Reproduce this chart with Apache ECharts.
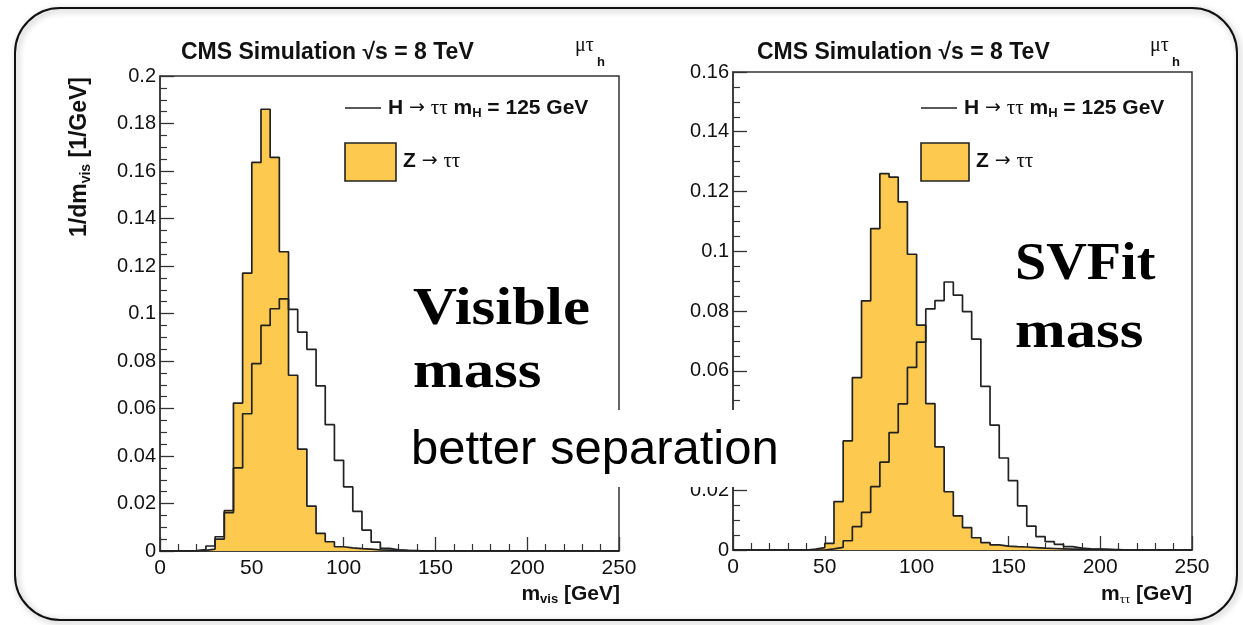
<!DOCTYPE html>
<html>
<head>
<meta charset="utf-8">
<script src="https://cdn.jsdelivr.net/npm/echarts@6/dist/echarts.min.js"></script>
<style>
html,body{margin:0;padding:0;background:#fff;}
#chart{width:1243px;height:625px;}
</style>
</head>
<body>
<div id="chart"></div>
<script>
// ---- data (bin contents, 5 GeV bins from 0 to 250 GeV) ----
const binWidth = 5;
const xMax = 250;
const xTicks = [0, 50, 100, 150, 200, 250];
const yTicksVis = [0, 0.02, 0.04, 0.06, 0.08, 0.1, 0.12, 0.14, 0.16, 0.18, 0.2];
const yTicksSv = [0, 0.02, 0.04, 0.06, 0.08, 0.1, 0.12, 0.14, 0.16];

// visible mass: Z -> tautau (filled)
const zVis = [0, 0, 0, 0, 0.0003, 0.0008, 0.005, 0.017, 0.0623, 0.117,
  0.1636, 0.186, 0.1657, 0.126, 0.074, 0.0429, 0.0189, 0.0074, 0.0039, 0.0018,
  0.0013, 0.001, 0.0008, 0.0005, 0.0004, 0.0003, 0.0002, 0.0001, 0, 0,
  0, 0, 0, 0, 0, 0, 0, 0, 0, 0,
  0, 0, 0, 0, 0, 0, 0, 0, 0, 0];
// visible mass: H -> tautau, mH = 125 GeV (outline)
const hVis = [0, 0, 0, 0.0002, 0.0006, 0.0021, 0.006, 0.0161, 0.035, 0.0578,
  0.0789, 0.095, 0.102, 0.1062, 0.1017, 0.0922, 0.0849, 0.0695, 0.0532, 0.0382,
  0.027, 0.0167, 0.0088, 0.0037, 0.0011, 0.0005, 0.0003, 0.0002, 0, 0,
  0, 0, 0, 0, 0, 0, 0, 0, 0, 0,
  0, 0, 0, 0, 0, 0, 0, 0, 0, 0];
// SVFit mass: Z -> tautau (filled)
const zSv = [0, 0, 0, 0, 0, 0, 0, 0, 0.0003, 0.0008,
  0.0022, 0.0162, 0.0365, 0.0577, 0.0834, 0.1076, 0.126, 0.1248, 0.1165, 0.099,
  0.0753, 0.049, 0.0345, 0.0195, 0.0114, 0.0075, 0.0041, 0.0025, 0.0017, 0.0013,
  0.0011, 0.001, 0.0008, 0.0006, 0.0005, 0.0004, 0.0003, 0.0003, 0.0002, 0.0002,
  0.0001, 0.0001, 0, 0, 0, 0, 0, 0, 0, 0];
// SVFit mass: H -> tautau, mH = 125 GeV (outline)
const hSv = [0, 0, 0, 0, 0, 0, 0, 0, 0, 0,
  0.0004, 0.0009, 0.0031, 0.0078, 0.0126, 0.0212, 0.0294, 0.0393, 0.0489, 0.0611,
  0.0696, 0.0807, 0.0835, 0.0897, 0.0853, 0.0798, 0.0706, 0.0548, 0.0418, 0.0308,
  0.0232, 0.0148, 0.008, 0.0045, 0.0028, 0.0019, 0.0011, 0.0006, 0.0004, 0.0003,
  0.0002, 0, 0, 0, 0, 0, 0, 0, 0, 0];

// ---- helpers ----
function histPoints(vals) {
  const pts = vals.map((v, i) => [i * binWidth, v]);
  pts.push([vals.length * binWidth, vals[vals.length - 1]]);
  return pts;
}
const YELLOW = '#FDC94E';
const LINE = '#222';
const SANS = 'Liberation Sans, Arial, Helvetica, sans-serif';
const SERIF = 'Liberation Serif, Times New Roman, serif';

function xAxisCfg(gi) {
  return {
    gridIndex: gi, type: 'value', min: 0, max: xMax, interval: 50,
    axisLine: { show: true, lineStyle: { color: '#333', width: 1.5 } },
    axisTick: { show: true, inside: true, length: 14, lineStyle: { color: '#333', width: 1.3 } },
    minorTick: { show: true, splitNumber: 5, length: 7, lineStyle: { color: '#333', width: 1.2 } },
    axisLabel: { fontSize: 21, color: '#111', margin: 7, fontFamily: SANS,
      formatter: v => (xTicks.indexOf(v) >= 0 ? String(v) : '') },
    splitLine: { show: false }
  };
}
function yAxisCfg(gi, ticks) {
  return {
    gridIndex: gi, type: 'value', min: 0, max: ticks[ticks.length - 1], interval: 0.02,
    axisLine: { show: true, lineStyle: { color: '#333', width: 1.5 } },
    axisTick: { show: true, inside: true, length: 14, lineStyle: { color: '#333', width: 1.3 } },
    minorTick: { show: true, splitNumber: 4, length: 7, lineStyle: { color: '#333', width: 1.2 } },
    axisLabel: { fontSize: 20, color: '#111', margin: 4, fontFamily: SANS,
      formatter: v => String(+v.toFixed(3)) },
    splitLine: { show: false }
  };
}
function zSeries(gi, vals) {
  return {
    type: 'line', xAxisIndex: gi, yAxisIndex: gi, step: 'end', symbol: 'none',
    data: histPoints(vals), lineStyle: { color: LINE, width: 1.7 },
    areaStyle: { color: YELLOW, opacity: 1 }, z: 2, silent: true
  };
}
function hSeries(gi, vals) {
  return {
    type: 'line', xAxisIndex: gi, yAxisIndex: gi, step: 'end', symbol: 'none',
    data: histPoints(vals), lineStyle: { color: LINE, width: 1.7 }, z: 3, silent: true
  };
}

const richLegend = {
  b: { fontFamily: SANS, fontWeight: 'bold', fontSize: 21, fill: '#111', lineHeight: 24 },
  a: { fontFamily: 'DejaVu Sans, ' + SANS, fontSize: 19, fill: '#111', lineHeight: 24 },
  t: { fontFamily: SERIF, fontSize: 21, fill: '#111', lineHeight: 24 },
  s: { fontFamily: SANS, fontWeight: 'bold', fontSize: 13, fill: '#111', lineHeight: 13, verticalAlign: 'bottom' }
};
function txt(x, y, text, font, opts) {
  return Object.assign({
    type: 'text', x: x, y: y, z: 50, silent: true,
    style: Object.assign({ text: text, font: font, fill: '#111', align: 'left', verticalAlign: 'middle',
      textAlign: 'left', textVerticalAlign: 'middle' }, (opts && opts.style) || {})
  }, (opts && opts.el) || {});
}
function titleGroup(x, muX) {
  return [
    txt(x, 53, 'CMS Simulation √s = 8 TeV', 'bold 23px ' + SANS),
    txt(muX, 46, 'μτ', '20px ' + SERIF),
    txt(muX + 22, 62, 'h', 'bold 13px ' + SANS)
  ];
}
function legendGroup(lx, boxW) {
  return [
    { type: 'line', z: 50, silent: true, shape: { x1: lx, y1: 108, x2: lx + 36, y2: 108 },
      style: { stroke: LINE, lineWidth: 1.5 } },
    { type: 'text', z: 50, silent: true, x: lx + 43, y: 108,
      style: { text: '{b|H }{a|→}{b| }{t|ττ}{b| m}{s|H}{b| = 125 GeV}', rich: richLegend,
        align: 'left', verticalAlign: 'middle', textAlign: 'left', textVerticalAlign: 'middle' } },
    { type: 'rect', z: 50, silent: true, shape: { x: lx, y: 143, width: boxW, height: 38 },
      style: { fill: YELLOW, stroke: LINE, lineWidth: 1.6 } },
    { type: 'text', z: 50, silent: true, x: lx + boxW + 7, y: 161,
      style: { text: '{b|Z }{a|→}{b| }{t|ττ}', rich: richLegend,
        align: 'left', verticalAlign: 'middle', textAlign: 'left', textVerticalAlign: 'middle' } }
  ];
}

const graphic = [].concat(
  [{ type: 'rect', z: 40, silent: true, shape: { x: 15, y: 8, width: 1222, height: 612, r: 45 },
     style: { fill: 'none', stroke: '#111', lineWidth: 2,
       shadowBlur: 6, shadowColor: 'rgba(0,0,0,0.35)', shadowOffsetX: 2, shadowOffsetY: 2 } }],
  titleGroup(181, 575),
  titleGroup(757, 1150),
  legendGroup(345, 51),
  legendGroup(921, 48),
  [
    // y-axis title (left)
    { type: 'text', z: 50, silent: true, x: 80, y: 77, rotation: Math.PI / 2,
      style: { text: '{b|1/dm}{s|vis}{b| [1/GeV]}', align: 'right', verticalAlign: 'middle',
        textAlign: 'right', textVerticalAlign: 'middle',
        rich: {
          b: { fontFamily: SANS, fontWeight: 'bold', fontSize: 23, fill: '#111', lineHeight: 26 },
          s: { fontFamily: SANS, fontWeight: 'bold', fontSize: 14, fill: '#111', lineHeight: 14, verticalAlign: 'bottom' }
        } } },
    // x-axis titles
    { type: 'text', z: 50, silent: true, x: 620, y: 594,
      style: { text: '{b|m}{s|vis}{b| [GeV]}', align: 'right', verticalAlign: 'middle',
        textAlign: 'right', textVerticalAlign: 'middle',
        rich: {
          b: { fontFamily: SANS, fontWeight: 'bold', fontSize: 21, fill: '#111', lineHeight: 24 },
          s: { fontFamily: SANS, fontWeight: 'bold', fontSize: 13, fill: '#111', lineHeight: 13, verticalAlign: 'bottom' }
        } } },
    { type: 'text', z: 50, silent: true, x: 1192, y: 594,
      style: { text: '{b|m}{s|ττ}{b| [GeV]}', align: 'right', verticalAlign: 'middle',
        textAlign: 'right', textVerticalAlign: 'middle',
        rich: {
          b: { fontFamily: SANS, fontWeight: 'bold', fontSize: 21, fill: '#111', lineHeight: 24 },
          s: { fontFamily: SERIF, fontSize: 13, fill: '#111', lineHeight: 13, verticalAlign: 'bottom' }
        } } },
    // annotations
    txt(413, 311, 'Visible', 'bold 52px ' + SERIF, { el: { scaleX: 1.17 }, style: { fill: '#000' } }),
    txt(413, 374, 'mass', 'bold 52px ' + SERIF, { el: { scaleX: 1.17 }, style: { fill: '#000' } }),
    txt(1015, 266, 'SVFit', 'bold 52px ' + SERIF, { el: { scaleX: 1.08 }, style: { fill: '#000' } }),
    txt(1015, 334, 'mass', 'bold 52px ' + SERIF, { el: { scaleX: 1.17 }, style: { fill: '#000' } }),
    { type: 'rect', z: 60, silent: true, shape: { x: 400, y: 410, width: 400, height: 77 },
      style: { fill: '#fff' } },
    { type: 'text', z: 61, silent: true, x: 411, y: 450,
      style: { text: 'better separation', font: '49px ' + SANS, fill: '#000',
        align: 'left', verticalAlign: 'middle', textAlign: 'left', textVerticalAlign: 'middle' } }
  ]
);

const option = {
  backgroundColor: '#fff',
  animation: false,
  grid: [
    { left: 160, top: 76, width: 459, height: 475, show: true, borderColor: '#333', borderWidth: 1.5, backgroundColor: 'transparent' },
    { left: 733, top: 72, width: 459, height: 478, show: true, borderColor: '#333', borderWidth: 1.5, backgroundColor: 'transparent' }
  ],
  xAxis: [xAxisCfg(0), xAxisCfg(1)],
  yAxis: [yAxisCfg(0, yTicksVis), yAxisCfg(1, yTicksSv)],
  series: [zSeries(0, zVis), hSeries(0, hVis), zSeries(1, zSv), hSeries(1, hSv)],
  graphic: graphic
};

const chart = echarts.init(document.getElementById('chart'), null, { renderer: 'canvas' });
chart.setOption(option);
</script>
</body>
</html>
